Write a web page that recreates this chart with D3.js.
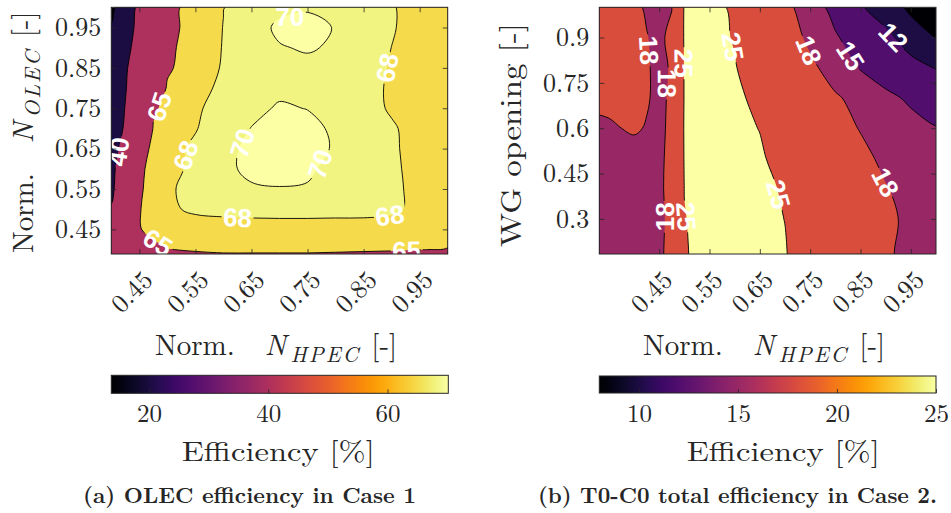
<!DOCTYPE html>
<html>
<head>
<meta charset="utf-8">
<script src="https://cdn.jsdelivr.net/npm/d3@7"></script>
<style>
  body { margin: 0; background: #fff; }
  svg { display: block; }
</style>
</head>
<body>
<svg id="fig" width="951" height="513"></svg>
<script>
// (a) OLEC efficiency in Case 1: columns = Norm. N_HPEC, rows = Norm. N_OLEC (top row first)
var olecHpec = [0.40, 0.425, 0.45, 0.475, 0.50, 0.55, 0.60, 0.65, 0.70, 0.75, 0.80, 0.85, 0.90, 0.95, 1.00];
var olecOlec = [1.00, 0.95, 0.90, 0.85, 0.80, 0.75, 0.70, 0.65, 0.60, 0.55, 0.50, 0.45, 0.40, 0.35];
var olecEff = [
  [16, 30, 44, 57, 64.0, 66.2, 67.95, 69.0, 69.6, 69.8, 69.5, 69.0, 68.2, 67.0, 66],
  [21, 32, 45, 57, 63.8, 66.5, 68.05, 69.3, 70.3, 70.6, 69.9, 69.2, 68.2, 67.0, 66],
  [25, 35, 47, 57, 64.2, 66.7, 68.1, 69.2, 69.9, 70.15, 69.8, 69.2, 67.98, 67.0, 66],
  [27, 38, 50, 59, 64.5, 66.8, 68.2, 69.0, 69.5, 69.6, 69.5, 69.0, 67.8, 66.8, 66],
  [28, 39, 52, 61, 65.4, 67.2, 68.5, 69.2, 69.6, 69.8, 69.6, 69.0, 67.6, 66.8, 66],
  [29, 40.5, 53, 64.3, 66.2, 67.7, 68.8, 69.5, 70.2, 69.95, 69.5, 69.0, 67.7, 66.8, 66],
  [30, 42, 56, 65.3, 66.6, 67.9, 69.0, 70.05, 70.6, 70.5, 69.7, 69.3, 68.3, 67.0, 66],
  [33, 46, 60.5, 67.0, 67.4, 68.3, 69.5, 70.4, 70.8, 70.7, 69.8, 69.4, 68.4, 67.0, 66],
  [36, 50, 64.0, 66.5, 67.3, 68.5, 69.6, 70.4, 70.7, 70.2, 69.6, 69.3, 68.5, 67.1, 66],
  [37, 52, 64.3, 66.8, 67.6, 68.9, 69.5, 69.8, 69.9, 69.9, 69.6, 69.3, 68.6, 67.2, 66],
  [41, 56, 64.8, 66.5, 67.5, 68.5, 68.8, 69.0, 69.1, 69.1, 69.0, 68.9, 68.5, 67.3, 66],
  [45, 57, 64.8, 66.0, 66.4, 66.6, 66.7, 66.7, 66.7, 66.7, 66.7, 66.8, 66.8, 66.5, 66],
  [44, 55, 62.0, 64.0, 64.9, 65.3, 65.5, 65.5, 65.5, 65.5, 65.4, 65.3, 65.2, 65.05, 64.9],
  [42, 52, 58.0, 60.0, 61.0, 62.0, 62.5, 62.5, 62.5, 62.5, 62.4, 62.3, 62.2, 61.8, 61]
];
var olecLevels = [20, 40, 65, 68, 70];
var olecRange = [13.7, 70.2];
var olecTicksX = [0.45, 0.55, 0.65, 0.75, 0.85, 0.95];
var olecTicksY = [0.45, 0.55, 0.65, 0.75, 0.85, 0.95];
var olecBarTicks = [20, 40, 60];
// contour label spots: [level, N_HPEC, N_OLEC]
var olecLabels = [
  [70, 0.719, 0.973], [68, 0.885, 0.852], [65, 0.487, 0.753], [40, 0.419, 0.641],
  [68, 0.537, 0.633], [70, 0.636, 0.662], [70, 0.773, 0.611], [68, 0.625, 0.473],
  [68, 0.895, 0.508], [65, 0.475, 0.400], [65, 0.927, 0.398]
];

// (b) T0-C0 total efficiency in Case 2: columns = Norm. N_HPEC, rows = WG opening (top row first)
var tcHpec = [0.30, 0.35, 0.40, 0.425, 0.45, 0.475, 0.50, 0.55, 0.60, 0.65, 0.70, 0.75, 0.80, 0.85, 0.90, 0.95, 1.00];
var tcWg = [1.0, 0.9, 0.8, 0.7, 0.6, 0.5, 0.4, 0.3, 0.2, 0.1];
var tcEff = [
  [20.0, 20.0, 19.0, 17.5, 16.5, 17.8, 25.3, 26, 24.5, 21.5, 18.8, 16.5, 14.0, 12.2, 11.0, 9.6, 8.5],
  [20.0, 20.0, 19.5, 18.2, 16.8, 19.5, 25.3, 26, 24.8, 22.0, 19.5, 17.4, 15.3, 13.5, 12.5, 11.0, 9.95],
  [19.5, 19.5, 19.0, 18.4, 17.0, 18.4, 25.2, 26, 25.2, 23.0, 20.5, 18.6, 16.8, 14.8, 13.6, 12.7, 11.9],
  [18.8, 18.8, 18.5, 18.3, 17.2, 18.6, 25.2, 26, 25.8, 24.0, 21.5, 20.0, 18.3, 17.2, 15.6, 14.6, 13.6],
  [16.8, 17.6, 18.4, 17.8, 17.2, 18.8, 25.3, 26, 26.0, 24.9, 22.5, 20.8, 19.5, 17.8, 16.5, 15.8, 15.1],
  [16.3, 16.4, 16.6, 16.8, 17.2, 19.2, 25.2, 26, 26.0, 25.5, 23.5, 21.8, 20.5, 19.0, 17.2, 16.3, 15.8],
  [16.0, 16.1, 16.3, 16.6, 17.3, 19.3, 25.05, 26, 26.0, 25.9, 24.6, 22.2, 21.0, 19.8, 18.2, 16.8, 16.2],
  [15.8, 15.9, 16.1, 16.4, 17.2, 19.0, 24.9, 26, 26.0, 26.0, 24.95, 22.5, 21.2, 20.2, 18.9, 17.1, 16.4],
  [15.7, 15.8, 16.0, 16.4, 17.3, 19.2, 24.8, 26, 26.0, 26.0, 25.2, 22.6, 21.3, 20.1, 18.6, 16.9, 16.2],
  [15.6, 15.7, 15.9, 16.3, 17.2, 19.0, 24.7, 26, 26.0, 26.0, 25.3, 22.7, 21.3, 20.0, 18.4, 16.8, 16.1]
];
var tcLevels = [10, 12, 15, 18, 25];
var tcRange = [8, 25];
var tcTicksX = [0.45, 0.55, 0.65, 0.75, 0.85, 0.95];
var tcTicksY = [0.3, 0.45, 0.6, 0.75, 0.9];
var tcBarTicks = [10, 15, 20, 25];
var tcLabels = [
  [18, 0.440, 0.859], [25, 0.499, 0.815], [18, 0.467, 0.748], [25, 0.596, 0.870],
  [18, 0.749, 0.859], [15, 0.838, 0.848], [12, 0.908, 0.892], [25, 0.679, 0.378],
  [18, 0.894, 0.417], [18, 0.460, 0.307], [25, 0.497, 0.307]
];

var svg = d3.select('#fig');
var defs = svg.append('defs');
var serif = '"Latin Modern Roman", "CMU Serif", "Liberation Serif", "Times New Roman", serif';
var sans = '"Liberation Sans", Arial, Helvetica, sans-serif';
var ink = '#262626';
var fmt = function (d) { return String(d); };

function drawPanel(p) {
  var b = p.box; // left, top, right, bottom
  var x = d3.scaleLinear().domain(p.xDomain).range([b[0], b[2]]);
  var y = d3.scaleLinear().domain(p.yDomain).range([b[3], b[1]]);
  var nx = p.gridX.length, ny = p.gridY.length;
  // grid index -> data value (grid may be uneven)
  var gx = d3.scaleLinear().domain(d3.range(nx)).range(p.gridX);
  var gy = d3.scaleLinear().domain(d3.range(ny)).range(p.gridY);
  var color = d3.scaleSequential(d3.interpolateInferno).domain(p.cRange);

  var contours = d3.contours()
    .size([nx, ny])
    .thresholds(p.levels)(d3.merge(p.z));

  function toPx(pt) { return [x(gx(pt[0] - 0.5)), y(gy(pt[1] - 0.5))]; }
  var line = d3.line().curve(d3.curveCatmullRomClosed.alpha(0.5));
  function pathOf(c) {
    return c.coordinates.map(function (poly) {
      return poly.map(function (ring) {
        return line(ring.slice(0, -1).map(toPx));
      }).join('');
    }).join('');
  }
  function onBorder(pt) {
    return pt[0] <= 0 || pt[0] >= nx || pt[1] <= 0 || pt[1] >= ny;
  }

  // label spots snapped to the nearest segment of their level
  var spots = p.labels.map(function (l) {
    var c = contours.find(function (d) { return d.value === l[0]; });
    var tx = x(l[1]), ty = y(l[2]);
    var best = null;
    c.coordinates.forEach(function (poly) {
      poly.forEach(function (ring) {
        var pts = ring.slice(0, -1);
        var n = pts.length;
        for (var i = 0; i < n; i++) {
          var p0 = pts[i], p1 = pts[(i + 1) % n];
          if (onBorder(p0) || onBorder(p1)) continue;
          var a = toPx(p0), e = toPx(p1);
          var vx = e[0] - a[0], vy = e[1] - a[1];
          var len2 = vx * vx + vy * vy || 1;
          var t = Math.max(0, Math.min(1, ((tx - a[0]) * vx + (ty - a[1]) * vy) / len2));
          var qx = a[0] + t * vx, qy = a[1] + t * vy;
          var dd = (qx - tx) * (qx - tx) + (qy - ty) * (qy - ty);
          if (!best || dd < best.dd) best = { dd: dd, pts: pts, i: i, q: [qx, qy] };
        }
      });
    });
    var n = best.pts.length;
    var a = toPx(best.pts[(best.i - 1 + n) % n]);
    var e = toPx(best.pts[(best.i + 2) % n]);
    var ang = Math.atan2(e[1] - a[1], e[0] - a[0]) * 180 / Math.PI;
    if (ang > 90) ang -= 180;
    if (ang <= -90) ang += 180;
    return { v: l[0], x: best.q[0], y: best.q[1], a: ang };
  });

  defs.append('clipPath').attr('id', p.id + '-clip')
    .append('rect')
    .attr('x', b[0]).attr('y', b[1])
    .attr('width', b[2] - b[0]).attr('height', b[3] - b[1]);

  var mask = defs.append('mask').attr('id', p.id + '-mask')
    .attr('maskUnits', 'userSpaceOnUse')
    .attr('x', 0).attr('y', 0).attr('width', 951).attr('height', 513);
  mask.append('rect').attr('width', 951).attr('height', 513).attr('fill', 'white');
  mask.selectAll('rect.gap')
    .data(spots)
    .enter()
    .append('rect')
    .attr('class', 'gap')
    .attr('x', -16).attr('y', -10).attr('width', 32).attr('height', 20)
    .attr('fill', 'black')
    .attr('transform', function (d) { return 'translate(' + d.x + ',' + d.y + ') rotate(' + d.a + ')'; });

  var g = svg.append('g').attr('clip-path', 'url(#' + p.id + '-clip)');
  g.append('rect')
    .attr('x', b[0]).attr('y', b[1])
    .attr('width', b[2] - b[0]).attr('height', b[3] - b[1])
    .attr('fill', color(p.cRange[0]));

  g.selectAll('path.band')
    .data(contours)
    .enter()
    .append('path')
    .attr('class', 'band')
    .attr('d', pathOf)
    .attr('fill-rule', 'evenodd')
    .attr('fill', function (d) { return color(d.value); });

  g.append('g')
    .attr('mask', 'url(#' + p.id + '-mask)')
    .selectAll('path')
    .data(contours)
    .enter()
    .append('path')
    .attr('d', pathOf)
    .attr('fill', 'none')
    .attr('stroke', '#000')
    .attr('stroke-width', 0.9);

  g.selectAll('text.clabel')
    .data(spots)
    .enter()
    .append('text')
    .attr('class', 'clabel')
    .attr('transform', function (d) { return 'translate(' + d.x + ',' + d.y + ') rotate(' + d.a + ')'; })
    .attr('text-anchor', 'middle')
    .attr('dy', '0.36em')
    .attr('fill', '#fff')
    .attr('font-family', sans)
    .attr('font-weight', 'bold')
    .attr('font-size', 26)
    .text(function (d) { return d.v; });

  // axes, ticks inside on all four sides
  function styleAxis(sel) {
    sel.attr('font-family', serif).attr('font-size', 26).attr('color', ink);
    sel.select('.domain').remove();
    sel.selectAll('.tick line').attr('stroke-width', 0.8);
  }
  var bottom = svg.append('g')
    .attr('transform', 'translate(0,' + b[3] + ')')
    .call(d3.axisBottom(x).tickValues(p.ticksX).tickSize(-5).tickFormat(fmt))
    .call(styleAxis);
  bottom.selectAll('text')
    .attr('x', 0).attr('y', 0).attr('dy', '0.32em')
    .attr('text-anchor', 'middle')
    .attr('transform', 'translate(-8,38) rotate(-45)');
  svg.append('g')
    .attr('transform', 'translate(0,' + b[1] + ')')
    .call(d3.axisTop(x).tickValues(p.ticksX).tickSize(-5).tickFormat(''))
    .call(styleAxis);
  svg.append('g')
    .attr('transform', 'translate(' + b[0] + ',0)')
    .call(d3.axisLeft(y).tickValues(p.ticksY).tickSize(-5).tickPadding(10).tickFormat(fmt))
    .call(styleAxis);
  svg.append('g')
    .attr('transform', 'translate(' + b[2] + ',0)')
    .call(d3.axisRight(y).tickValues(p.ticksY).tickSize(-5).tickFormat(''))
    .call(styleAxis);
  svg.append('rect')
    .attr('x', b[0]).attr('y', b[1])
    .attr('width', b[2] - b[0]).attr('height', b[3] - b[1])
    .attr('fill', 'none').attr('stroke', ink).attr('stroke-width', 1);

  // colorbar
  var cb = p.cbar;
  var cx = d3.scaleLinear().domain(p.cRange).range([cb[0], cb[2]]);
  var grad = defs.append('linearGradient').attr('id', p.id + '-grad');
  grad.selectAll('stop')
    .data(d3.range(0, 1.0001, 0.02))
    .enter()
    .append('stop')
    .attr('offset', function (d) { return d; })
    .attr('stop-color', function (d) { return d3.interpolateInferno(Math.min(d, 1)); });
  svg.append('rect')
    .attr('x', cb[0]).attr('y', cb[1])
    .attr('width', cb[2] - cb[0]).attr('height', cb[3] - cb[1])
    .attr('fill', 'url(#' + p.id + '-grad)')
    .attr('stroke', ink).attr('stroke-width', 1);
  var cax = svg.append('g')
    .attr('transform', 'translate(0,' + cb[3] + ')')
    .call(d3.axisBottom(cx).tickValues(p.cTicks).tickSize(-4).tickFormat(fmt))
    .call(styleAxis);
  cax.selectAll('text').attr('y', 29).attr('dy', 0).attr('font-size', 25);

  // titles
  var xt = svg.append('text')
    .attr('x', p.xTitle[0]).attr('y', p.xTitle[1])
    .attr('font-family', serif).attr('font-size', 29).attr('fill', ink);
  mathText(xt, 'HPEC');

  if (p.yMath) {
    var yt = svg.append('text')
      .attr('transform', 'translate(' + p.yTitle[0] + ',' + p.yTitle[1] + ') rotate(-90)')
      .attr('font-family', serif).attr('font-size', 29).attr('fill', ink);
    mathText(yt, p.yMath);
  } else {
    svg.append('text')
      .attr('transform', 'translate(' + p.yTitle[0] + ',' + p.yTitle[1] + ') rotate(-90)')
      .attr('font-family', serif).attr('font-size', 29).attr('fill', ink)
      .attr('textLength', p.yTitle[2]).attr('lengthAdjust', 'spacingAndGlyphs')
      .text(p.yText);
  }

  svg.append('text')
    .attr('x', p.cTitle[0]).attr('y', p.cTitle[1])
    .attr('font-family', serif).attr('font-size', 28).attr('fill', ink)
    .attr('textLength', p.cTitle[2]).attr('lengthAdjust', 'spacingAndGlyphs')
    .text('Efficiency [%]');

  svg.append('text')
    .attr('x', p.caption[0]).attr('y', p.caption[1])
    .attr('font-family', serif).attr('font-size', 22).attr('font-weight', 'bold').attr('fill', ink)
    .attr('textLength', p.caption[2]).attr('lengthAdjust', 'spacingAndGlyphs')
    .text(p.captionText);
}

// "Norm. N_sub [-]" with italic N and subscript
function mathText(t, sub) {
  t.append('tspan').text('Norm.');
  t.append('tspan').attr('dx', 30).attr('font-style', 'italic').text('N');
  t.append('tspan').attr('dx', 4).attr('dy', 7)
    .attr('font-style', 'italic').attr('font-size', 22).attr('letter-spacing', 2)
    .text(sub);
  t.append('tspan').attr('dx', 11).attr('dy', -7).text('[-]');
}

drawPanel({
  id: 'olec',
  box: [111.3, 7.3, 447.7, 254],
  xDomain: [0.4, 1.0], yDomain: [0.389, 1.0],
  gridX: olecHpec, gridY: olecOlec, z: olecEff,
  levels: olecLevels, cRange: olecRange, labels: olecLabels,
  ticksX: olecTicksX, ticksY: olecTicksY, cTicks: olecBarTicks,
  cbar: [111.3, 375.3, 448.3, 393.3],
  xTitle: [155, 355],
  yTitle: [33, 253], yMath: 'OLEC',
  cTitle: [181.7, 461, 193],
  caption: [83, 503, 333], captionText: '(a) OLEC efficiency in Case 1'
});

drawPanel({
  id: 'tc',
  box: [599.3, 7.3, 936, 254],
  xDomain: [0.331, 1.0], yDomain: [0.184, 1.0],
  gridX: tcHpec, gridY: tcWg, z: tcEff,
  levels: tcLevels, cRange: tcRange, labels: tcLabels,
  ticksX: tcTicksX, ticksY: tcTicksY, cTicks: tcBarTicks,
  cbar: [599.3, 376, 936, 393],
  xTitle: [643, 355],
  yTitle: [521, 247, 224], yText: 'WG opening [-]',
  cTitle: [686.7, 461, 193],
  caption: [538, 503, 399], captionText: '(b) T0-C0 total efficiency in Case 2.'
});
</script>
</body>
</html>
